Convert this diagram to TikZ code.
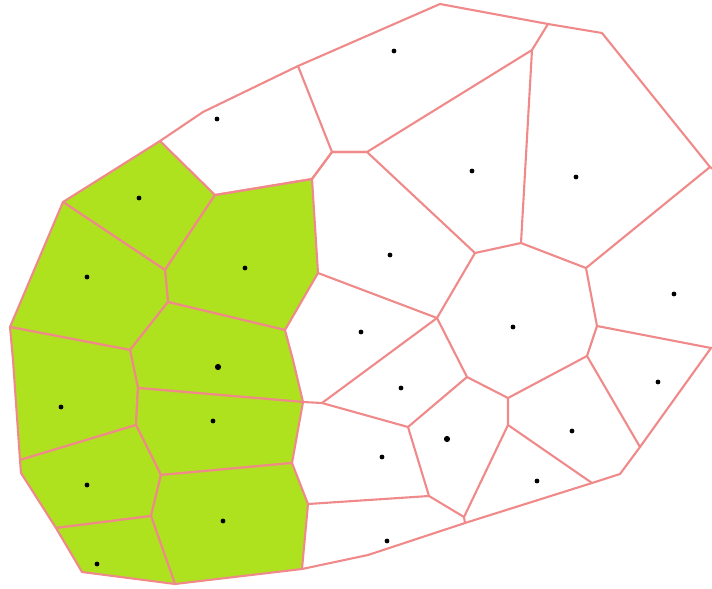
\documentclass[tikz,border=0pt]{standalone}
\usepackage{xcolor}
\usepackage{tikz}
\usetikzlibrary{calc,positioning}

\definecolor{cellgreen}{HTML}{AEE21E}
\definecolor{edgepink}{HTML}{F08A8A}

\begin{document}
\begin{tikzpicture}[x=0.025cm, y=-0.025cm,
    cell/.style={draw=edgepink, line width=1.5pt, line join=round},
    greencell/.style={cell, fill=cellgreen}]

    \useasboundingbox (0,0) rectangle (712,588);
    \clip (0,0) rectangle (712,588);

    % Green cells
    \draw[greencell] (63,202) -- (160,141) -- (215,195) -- (165,270) -- cycle;
    \draw[greencell] (215,195) -- (312,179) -- (318,273) -- (285,330) -- (168,302) -- (165,270) -- cycle;
    \draw[greencell] (63,202) -- (165,270) -- (168,302) -- (130,350) -- (10,327) -- cycle;
    \draw[greencell] (168,302) -- (285,330) -- (293,360) -- (303,402) -- (138,388) -- (130,350) -- cycle;
    \draw[greencell] (10,327) -- (130,350) -- (138,388) -- (136,425) -- (20,460) -- (13,360) -- cycle;
    \draw[greencell] (138,388) -- (303,402) -- (292,463) -- (161,475) -- (136,425) -- cycle;
    \draw[greencell] (20,460) -- (136,425) -- (161,475) -- (151,516) -- (56,528) -- (21,473) -- cycle;
    \draw[greencell] (161,475) -- (292,463) -- (308,504) -- (302,569) -- (175,584) -- (151,516) -- cycle;
    \draw[greencell] (56,528) -- (151,516) -- (175,584) -- (82,572) -- cycle;

    % White cells
    \draw[cell] (160,141) -- (203,112) -- (298,66) -- (332,152) -- (312,179) -- (215,195);
    \draw[cell] (298,66) -- (440,4) -- (548,24) -- (532,50) -- (367,152) -- (332,152);
    \draw[cell] (312,179) -- (332,152) -- (367,152) -- (475,253) -- (437,318) -- (318,273);
    \draw[cell] (532,50) -- (521,243) -- (475,253);
    \draw[cell] (548,24) -- (602,33) -- (710,167) -- (586,268) -- (521,243);
    \draw[cell] (710,167) -- (760,200) -- (760,340) -- (711,348) -- (597,326) -- (586,268);
    \draw[cell] (597,326) -- (587,356) -- (508,398) -- (467,377) -- (437,318);
    \draw[cell] (711,348) -- (640,447) -- (620,474) -- (592,483) -- (465,523) -- (368,555) -- (302,569);
    \draw[cell] (587,356) -- (640,447);
    \draw[cell] (437,318) -- (322,403) -- (303,402);
    \draw[cell] (467,377) -- (408,427) -- (322,403);
    \draw[cell] (508,398) -- (508,425) -- (592,483);
    \draw[cell] (508,425) -- (464,517) -- (465,523);
    \draw[cell] (408,427) -- (429,496) -- (464,517);
    \draw[cell] (429,496) -- (308,504);

    % Sites
    \foreach \x/\y in {139/198, 87/277, 245/268, 61/407, 213/421, 87/485,
        223/521, 97/564, 217/119, 394/51, 472/171, 576/177, 390/255,
        674/294, 513/327, 361/332, 401/388, 658/382, 382/457, 572/431,
        537/481, 387/541} {
        \fill (\x,\y) circle (1.7pt);
    }
    \fill (218,367) circle (2.2pt);
    \fill (447,439) circle (2.2pt);
\end{tikzpicture}
\end{document}
